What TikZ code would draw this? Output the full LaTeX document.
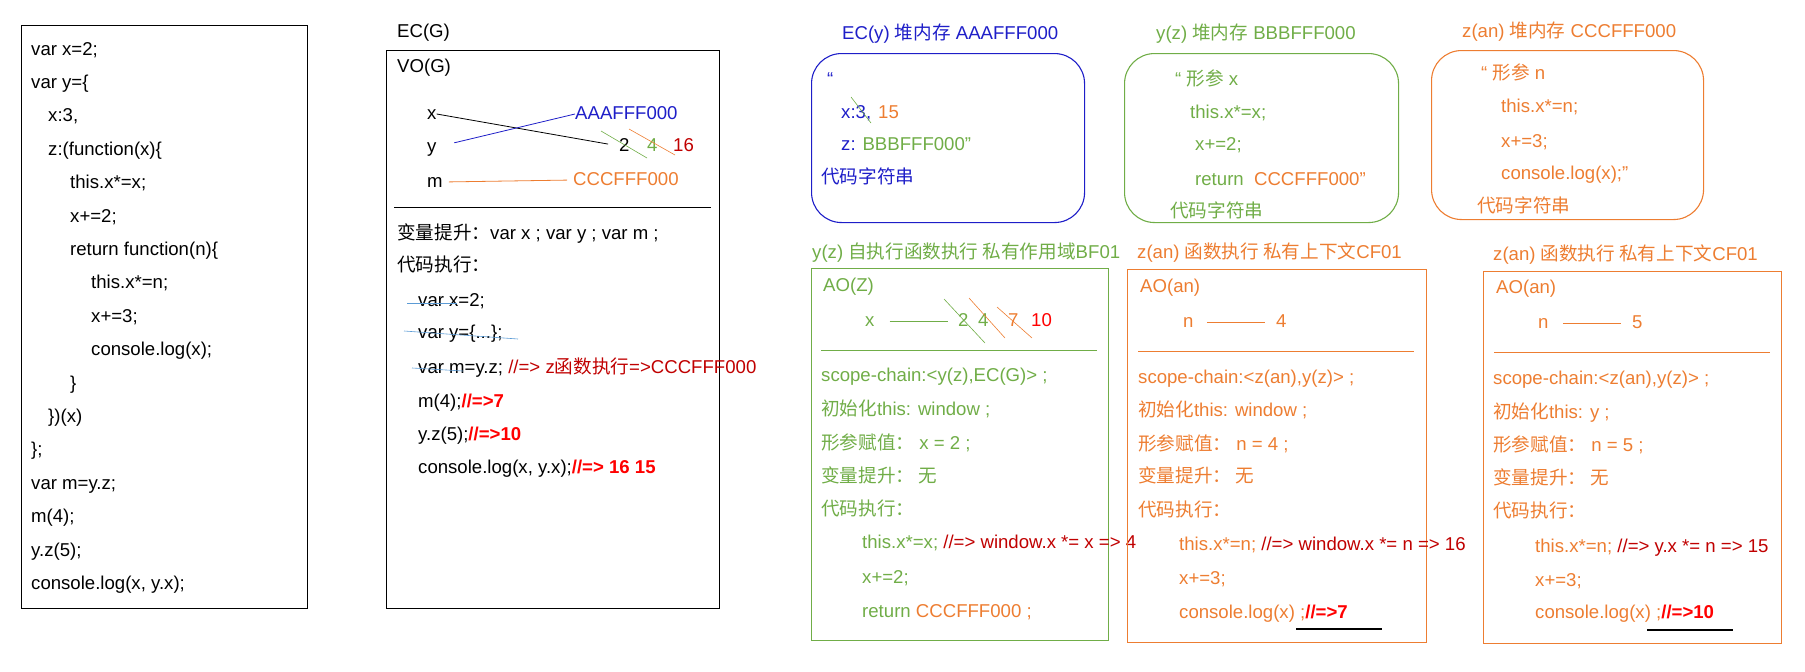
\documentclass[tikz,border=0pt]{standalone}
\usepackage{fontspec}
\setmainfont{Liberation Sans}
\newfontfamily\cjk{Noto Sans CJK SC}
\usetikzlibrary{positioning}
\usetikzlibrary{calc}

\definecolor{heapblue}{RGB}{30,30,200}
\definecolor{aogreen}{RGB}{112,173,71}
\definecolor{aoorange}{RGB}{237,125,49}
\definecolor{cmtred}{RGB}{192,0,0}
\definecolor{strikeblue}{RGB}{91,155,213}

\newcommand{\zhtext}[1]{{\cjk #1}}
\newcommand{\res}[1]{\textcolor{red}{\bfseries #1}}

\tikzset{
  txt/.style={anchor=west, inner sep=0pt, text height=14pt, text depth=3pt, font=\fontsize{18.6}{22}\selectfont},
  panel/.style={draw, line width=1.1pt, anchor=north west, inner sep=0pt},
  heap/.style={panel, rounded corners=30pt},
  strike/.style={line width=0.6pt},
}

\begin{document}
\begin{tikzpicture}[x=1pt, y=-1pt]
  \useasboundingbox (0,0) rectangle (1805,672);

  % source code
  \node[panel, minimum width=286pt, minimum height=583pt] (code) at (21,25) {};
  \foreach \ind/\src [count=\i from 0] in {31/{var x=2;}, 31/{var y=\{}, 48/{x:3,}, 48/{z:(function(x)\{},
      70/{this.x*=x;}, 70/{x+=2;}, 70/{return function(n)\{}, 91/{this.x*=n;}, 91/{x+=3;},
      91/{console.log(x);}, 70/{\}}, 48/{\})(x)}, 31/{\};}, 31/{var m=y.z;}, 31/{m(4);},
      31/{y.z(5);}, 31/{console.log(x, y.x);}} {
    \node[txt] (c\i) at (\ind, 49.5+33.4*\i) {\src};
  }

  % global context
  \node[txt] (ecgt) at (397,32) {EC(G)};
  \node[panel, minimum width=333pt, minimum height=558pt] (ecg) at (386,50) {};
  \node[txt] (vog) at (397,67) {VO(G)};
  \node[txt] (vx) at (427,114) {x};
  \node[txt] (vy) at (427,147) {y};
  \node[txt] (vm) at (427,182) {m};
  \node[txt, heapblue] (vaaa) at (575,114) {AAAFFF000};
  \node[txt] (v2) at (619,146) {2};
  \node[txt, aogreen] (v4) at (647,146) {4};
  \node[txt, cmtred] (v16) at (673,146) {16};
  \node[txt, aoorange] (vccc) at (573,180) {CCCFFF000};
  \draw[line width=0.8pt, shorten >=11pt] (vx.east) -- (v2.west);
  \draw[heapblue, line width=0.8pt, shorten <=18pt] (vy.east) -- (vaaa.west);
  \draw[aoorange, line width=0.8pt, shorten <=6pt, shorten >=6pt] (vm.east) -- (vccc.west);
  \draw[aogreen, strike] (601,131) -- (647,158);
  \draw[aoorange, strike] (629,129) -- (675,155);
  \draw[line width=0.9pt] (394,207) -- (711,207);

  \node[txt] (hoist) at (397,234) {\zhtext{变量提升：}var x ; var y ; var m ;};
  \node[txt] (exec) at (397,266) {\zhtext{代码执行：}};
  \node[txt] (g1) at (418,301) {var x=2;};
  \node[txt] (g2) at (418,333) {var y=\{...\};};
  \node[txt] (g3) at (418,368) {var m=y.z; \textcolor{cmtred}{//=> z\zhtext{函数执行}=>CCCFFF000}};
  \node[txt] (g4) at (418,402) {m(4);\res{//=>7}};
  \node[txt] (g5) at (418,435) {y.z(5);\res{//=>10}};
  \node[txt] (g6) at (418,468) {console.log(x, y.x);\res{//=> 16 15}};
  \draw[strikeblue, strike] (407,303) -- (457,303);
  \draw[strikeblue, strike] (404,331) -- (518,339);
  \draw[strikeblue, strike] (412,368) -- (463,371);

  % heap y
  \node[txt, heapblue] (hyt) at (842,34) {EC(y) \zhtext{堆内存} AAAFFF000};
  \node[heap, heapblue, minimum width=273pt, minimum height=169pt] (hy) at (811,53) {};
  \node[txt, heapblue] (hy1) at (827,80) {“};
  \node[txt, heapblue] (hy2) at (841,113) {x:3,\hspace{7pt}\textcolor{aoorange}{15}};
  \node[txt, heapblue] (hy3) at (841,145) {z: \textcolor{aogreen}{BBBFFF000”}};
  \node[txt, heapblue] (hy4) at (821,178) {\zhtext{代码字符串}};
  \draw[aogreen, strike] (851,97) -- (871,123);

  % heap z
  \node[txt, aogreen] (hzt) at (1156,34) {y(z) \zhtext{堆内存} BBBFFF000};
  \node[heap, aogreen, minimum width=274pt, minimum height=169pt] (hz) at (1124,53) {};
  \node[txt, aogreen] (hz1) at (1175,80) {“ \zhtext{形参} x};
  \node[txt, aogreen] (hz2) at (1190,113) {this.x*=x;};
  \node[txt, aogreen] (hz3) at (1195,145) {x+=2;};
  \node[txt, aogreen] (hz4) at (1195,180) {return\ \ \textcolor{aoorange}{CCCFFF000”}};
  \node[txt, aogreen] (hz5) at (1170,212) {\zhtext{代码字符串}};

  % heap an
  \node[txt, aoorange] (hat) at (1462,32) {z(an) \zhtext{堆内存} CCCFFF000};
  \node[heap, aoorange, minimum width=272pt, minimum height=169pt] (ha) at (1431,50) {};
  \node[txt, aoorange] (ha1) at (1481,74) {“ \zhtext{形参} n};
  \node[txt, aoorange] (ha2) at (1501,107) {this.x*=n;};
  \node[txt, aoorange] (ha3) at (1501,142) {x+=3;};
  \node[txt, aoorange] (ha4) at (1501,174) {console.log(x);”};
  \node[txt, aoorange] (ha5) at (1477,207) {\zhtext{代码字符串}};

  % AO(Z)
  \node[txt, aogreen] (azt) at (812,253) {y(z) \zhtext{自执行函数执行 私有作用域}BF01};
  \node[panel, aogreen, minimum width=297pt, minimum height=372pt] (az) at (811,268) {};
  \node[txt, aogreen] (az0) at (823,286) {AO(Z)};
  \node[txt, aogreen] (azx) at (865,321) {x};
  \node[txt, aogreen] (az2) at (958,321) {2};
  \node[txt, aogreen] (az4) at (978,321) {4};
  \node[txt, aoorange] (az7) at (1008,321) {7};
  \node[txt, red] (az10) at (1031,321) {10};
  \draw[aogreen, line width=0.8pt, shorten <=15pt, shorten >=10pt] (azx.east) -- (az2.west);
  \draw[aogreen, strike] (944,299) -- (985,343);
  \draw[aoorange, strike] (969,298) -- (1005,338);
  \draw[aoorange, strike] (997,307) -- (1032,338);
  \draw[aogreen, line width=0.9pt] (821,350) -- (1097,350);
  \node[txt, aogreen] (az1) at (821,376) {scope-chain:<y(z),EC(G)> ;};
  \node[txt, aogreen] (az3) at (821,410) {\zhtext{初始化}this: window ;};
  \node[txt, aogreen] (az5) at (821,444) {\zhtext{形参赋值：}\ x = 2 ;};
  \node[txt, aogreen] (az6) at (821,477) {\zhtext{变量提升：\ 无}};
  \node[txt, aogreen] (az8) at (821,510) {\zhtext{代码执行：}};
  \node[txt, aogreen] (az9) at (862,543) {this.x*=x; \textcolor{cmtred}{//=> window.x *= x => 4}};
  \node[txt, aogreen] (az11) at (862,578) {x+=2;};
  \node[txt, aogreen] (az12) at (862,612) {return \textcolor{aoorange}{CCCFFF000 ;}};

  % AO(an) m(4)
  \node[txt, aoorange] (aat) at (1137,253) {z(an) \zhtext{函数执行 私有上下文}CF01};
  \node[panel, aoorange, minimum width=299pt, minimum height=373pt] (aa) at (1127,269) {};
  \node[txt, aoorange] (aa0) at (1140,287) {AO(an)};
  \node[txt, aoorange] (aan) at (1183,322) {n};
  \node[txt, aoorange] (aa4) at (1276,322) {4};
  \draw[aoorange, line width=0.8pt, shorten <=13pt, shorten >=11pt] (aan.east) -- (aa4.west);
  \draw[aoorange, line width=0.9pt] (1138,351) -- (1414,351);
  \node[txt, aoorange] (aa1) at (1138,378) {scope-chain:<z(an),y(z)> ;};
  \node[txt, aoorange] (aa2) at (1138,411) {\zhtext{初始化}this: window ;};
  \node[txt, aoorange] (aa3) at (1138,445) {\zhtext{形参赋值：}\ n = 4 ;};
  \node[txt, aoorange] (aa5) at (1138,477) {\zhtext{变量提升：\ 无}};
  \node[txt, aoorange] (aa6) at (1138,511) {\zhtext{代码执行：}};
  \node[txt, aoorange] (aa7) at (1179,545) {this.x*=n; \textcolor{cmtred}{//=> window.x *= n => 16}};
  \node[txt, aoorange] (aa8) at (1179,579) {x+=3;};
  \node[txt, aoorange] (aa9) at (1179,613) {console.log(x) ;\res{//=>7}};
  \draw[line width=1.6pt] (1296,629) -- (1382,629);

  % AO(an) y.z(5)
  \node[txt, aoorange] (abt) at (1493,255) {z(an) \zhtext{函数执行 私有上下文}CF01};
  \node[panel, aoorange, minimum width=298pt, minimum height=372pt] (ab) at (1483,271) {};
  \node[txt, aoorange] (ab0) at (1496,288) {AO(an)};
  \node[txt, aoorange] (abn) at (1538,323) {n};
  \node[txt, aoorange] (ab5) at (1632,323) {5};
  \draw[aoorange, line width=0.8pt, shorten <=14pt, shorten >=11pt] (abn.east) -- (ab5.west);
  \draw[aoorange, line width=0.9pt] (1494,352) -- (1770,352);
  \node[txt, aoorange] (ab1) at (1493,379) {scope-chain:<z(an),y(z)> ;};
  \node[txt, aoorange] (ab2) at (1493,413) {\zhtext{初始化}this: y ;};
  \node[txt, aoorange] (ab3) at (1493,446) {\zhtext{形参赋值：}\ n = 5 ;};
  \node[txt, aoorange] (ab4) at (1493,479) {\zhtext{变量提升：\ 无}};
  \node[txt, aoorange] (ab6) at (1493,512) {\zhtext{代码执行：}};
  \node[txt, aoorange] (ab7) at (1535,547) {this.x*=n; \textcolor{cmtred}{//=> y.x *= n => 15}};
  \node[txt, aoorange] (ab8) at (1535,581) {x+=3;};
  \node[txt, aoorange] (ab9) at (1535,613) {console.log(x) ;\res{//=>10}};
  \draw[line width=1.6pt] (1647,630) -- (1733,630);
\end{tikzpicture}
\end{document}
